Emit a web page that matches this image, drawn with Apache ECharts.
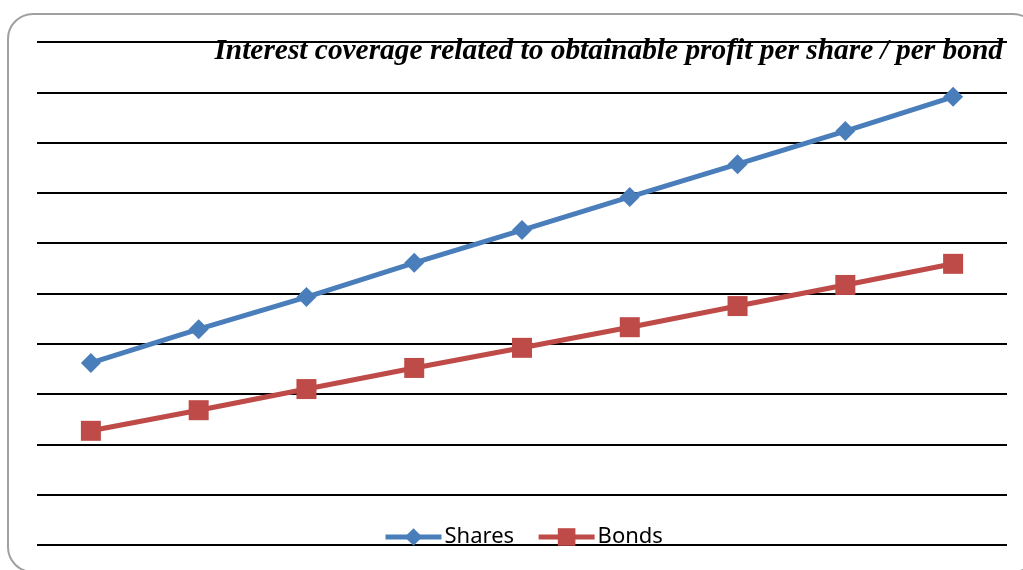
<!DOCTYPE html>
<html><head><meta charset="utf-8">
<script src="https://cdn.jsdelivr.net/npm/echarts@6/dist/echarts.min.js"></script>
<style>html,body{margin:0;padding:0;background:#fff}#c{width:1023px;height:570px}</style>
</head><body><div id="c"></div>
<script>
const categories = ['1','2','3','4','5','6','7','8','9'];
const shares = [3.62, 4.29, 4.93, 5.61, 6.26, 6.92, 7.57, 8.23, 8.91];
const bonds = [2.27, 2.68, 3.10, 3.52, 3.92, 4.33, 4.75, 5.17, 5.59];
const titleText = 'Interest coverage related to obtainable profit per share / per bond';

const chart = echarts.init(document.getElementById('c'), null, {renderer:'canvas'});
chart.setOption({
  animation:false,
  backgroundColor:'#fff',
  graphic:[{type:'rect', shape:{x:8,y:14,width:1030,height:558,r:25}, style:{fill:'none',stroke:'#a0a0a0',lineWidth:2}, z:-1}],
  title:{text:titleText, right:15, top:32, textStyle:{fontFamily:'Liberation Serif', fontStyle:'italic', fontWeight:'bold', fontSize:29.4, color:'#000'}},
  legend:{bottom:17, left:378, itemWidth:56, itemHeight:22, itemGap:22, lineStyle:{width:5}, textStyle:{fontFamily:'Noto Sans', fontSize:22, color:'#000', padding:[0,0,0,-2]}, data:['Shares','Bonds']},
  grid:{left:37, right:16, top:42, bottom:25},
  xAxis:{type:'category', data:categories, boundaryGap:true, axisLine:{show:false}, axisTick:{show:false}, axisLabel:{show:false}},
  yAxis:{type:'value', min:0, max:10, interval:1, axisLabel:{show:false}, axisLine:{show:false}, axisTick:{show:false}, splitLine:{lineStyle:{color:'#000', width:2}}},
  series:[
    {name:'Shares', type:'line', data:shares, symbol:'diamond', symbolSize:20, lineStyle:{color:'#4a7ebb', width:5}, itemStyle:{color:'#4a7ebb'}},
    {name:'Bonds', type:'line', data:bonds, symbol:'rect', symbolSize:20, lineStyle:{color:'#be4b48', width:5}, itemStyle:{color:'#be4b48'}}
  ]
});
</script></body></html>
